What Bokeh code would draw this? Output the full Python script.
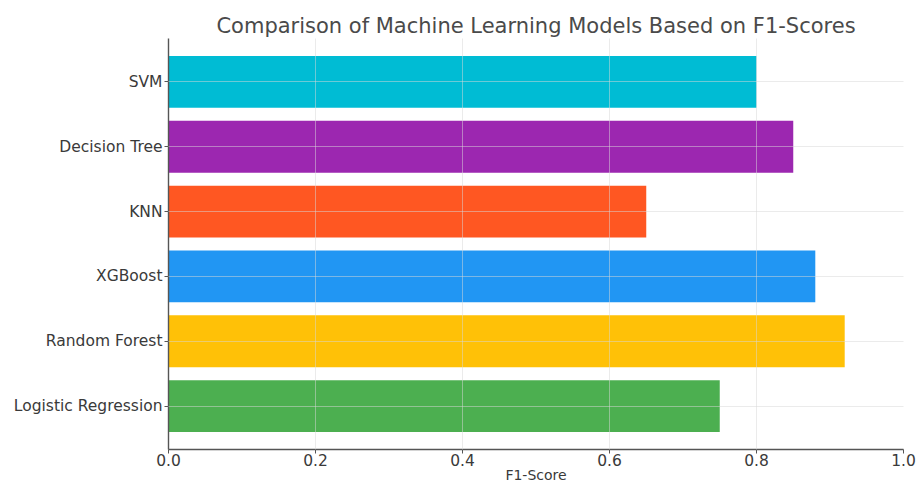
from bokeh.plotting import figure
from bokeh.models import FactorRange, Range1d, FixedTicker, ColumnDataSource
from bokeh.embed import file_html
from bokeh.resources import INLINE

models = ["Logistic Regression", "Random Forest", "XGBoost", "KNN", "Decision Tree", "SVM"]
f1_scores = [0.75, 0.92, 0.88, 0.65, 0.85, 0.80]
colors = ["#4CAF50", "#FFC107", "#2196F3", "#FF5722", "#9C27B0", "#00BCD4"]
x_ticks = [0.0, 0.2, 0.4, 0.6, 0.8, 1.0]

FONT = "DejaVu Sans"

source = ColumnDataSource(dict(model=models, score=f1_scores, color=colors))

p = figure(
    width=916, height=485,
    y_range=FactorRange(factors=models, range_padding=0.17, range_padding_units="absolute"),
    x_range=Range1d(0, 1.0),
    output_backend="svg", toolbar_location=None,
    min_border_left=168, min_border_right=13, min_border_top=38, min_border_bottom=36,
    title="Comparison of Machine Learning Models Based on F1-Scores",
)

p.hbar(y="model", right="score", left=0, height=0.8, color="color", line_color=None, source=source)

p.title.align = "center"
p.title.text_font = FONT
p.title.text_font_size = "21px"
p.title.text_font_style = "normal"
p.title.text_color = "#4a4a4a"
p.title.standoff = 2

p.outline_line_color = None

for ax in (p.xaxis, p.yaxis):
    ax.axis_line_color = "#555555"
    ax.axis_line_width = 1.4
    ax.major_tick_line_color = "#555555"
    ax.major_tick_out = 4
    ax.major_tick_in = 0
    ax.minor_tick_line_color = None
    ax.major_label_text_font = FONT
    ax.major_label_text_font_size = "15.5px"
    ax.major_label_text_color = "#3a3a3a"

p.yaxis.major_label_standoff = 2
p.xaxis.major_label_standoff = 0
p.xaxis.ticker = FixedTicker(ticks=x_ticks)
p.xaxis.major_label_overrides = {t: f"{t:.1f}" for t in x_ticks}
p.xaxis.axis_label = "F1-Score"
p.xaxis.axis_label_text_font = FONT
p.xaxis.axis_label_text_font_size = "14px"
p.xaxis.axis_label_text_font_style = "normal"
p.xaxis.axis_label_text_color = "#3a3a3a"
p.xaxis.axis_label_standoff = -2

for g in (p.xgrid, p.ygrid):
    g.grid_line_color = "#d8d8d8"
    g.grid_line_alpha = 0.5
    g.grid_line_width = 1
    g.level = "overlay"

open("out.html", "w").write(file_html(p, INLINE))
